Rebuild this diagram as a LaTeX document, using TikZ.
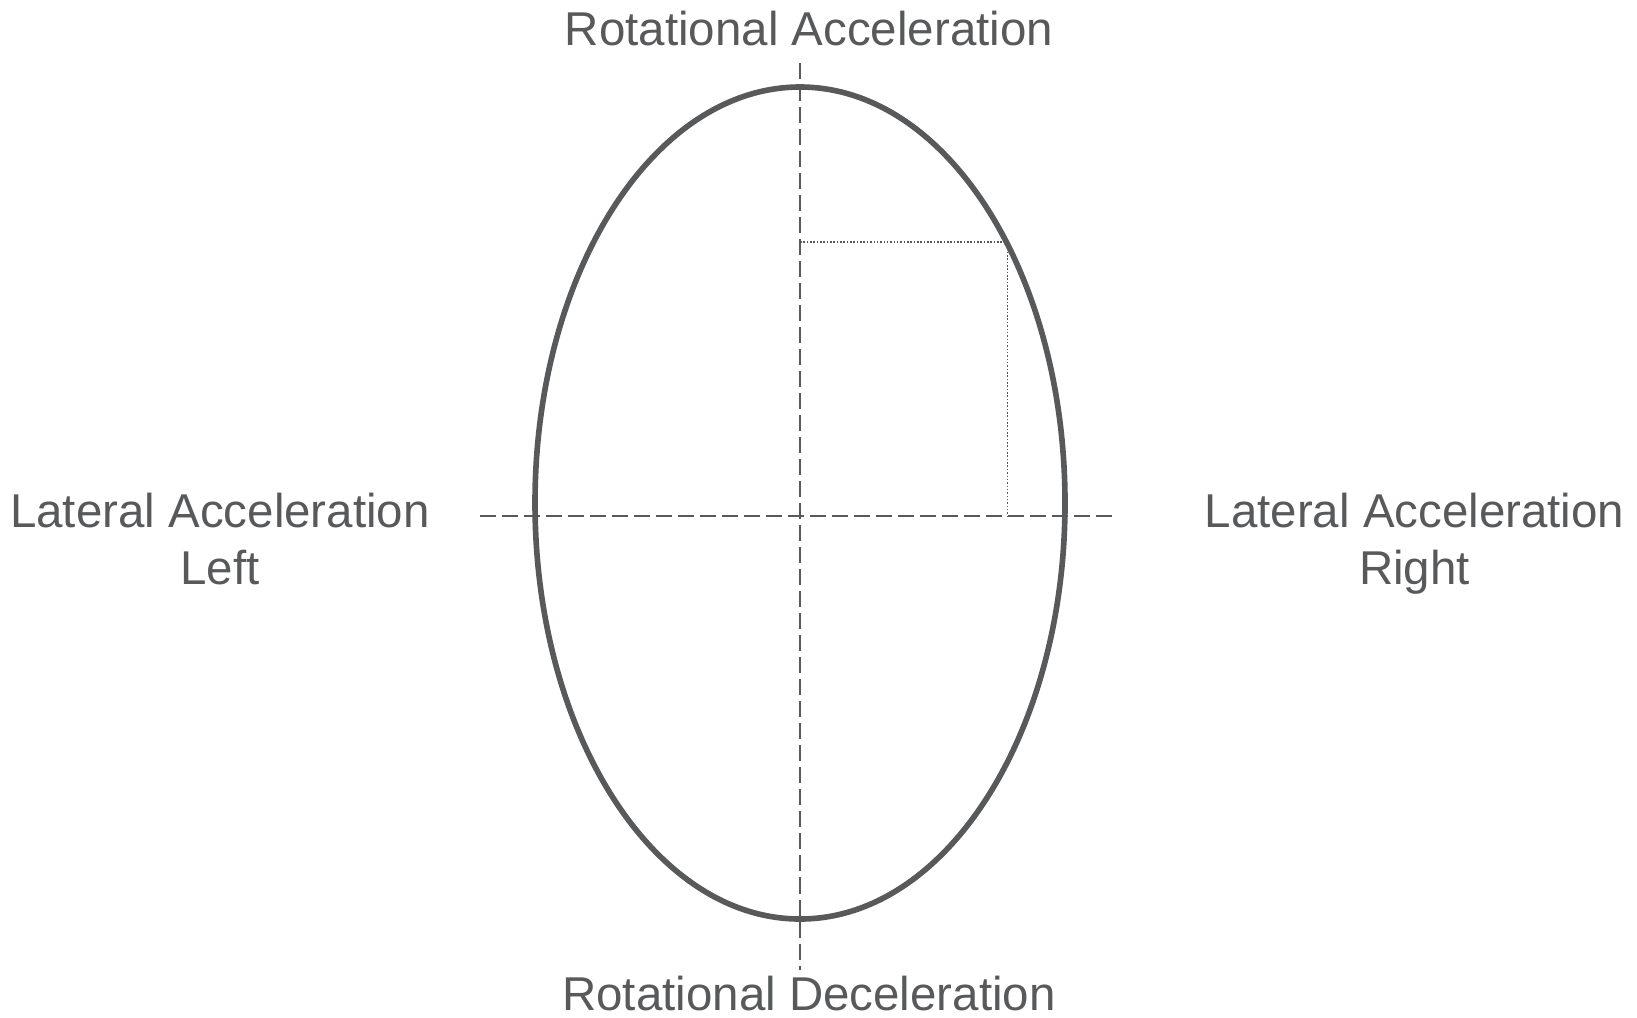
\documentclass[tikz,border=0pt]{standalone}
\usepackage{fontspec}
\setmainfont{Liberation Sans}
\usetikzlibrary{positioning,calc}
\definecolor{ink}{HTML}{58595B}

\begin{document}
\begin{tikzpicture}[
  x=0.01cm, y=-0.01cm,
  font=\fontsize{13.5pt}{16pt}\selectfont, text=ink,
  rim/.style={draw=ink, line width=1.6pt},
  axis/.style={draw=ink, line width=0.6pt, dash pattern=on 0.16cm off 0.06cm},
  guide/.style={draw=ink, line width=0.45pt, dash pattern=on 0.45pt off 0.5pt},
  label/.style={inner sep=0pt, anchor=base, align=center},
]
\useasboundingbox (0,0) rectangle (1637,1017);

% ---- the friction ellipse ----------------------------------------------------
\coordinate (o) at (800,503);
\draw[rim] (o) ellipse [x radius=265, y radius=416];

% ---- axes ---------------------------------------------------------------------
\coordinate (ytop) at (800,63);
\coordinate (ybot) at (800,970);
\coordinate (xleft) at (480,516);
\coordinate (xright) at (1112,516);
\draw[axis] (ytop) -- (ybot);
\draw[axis] (xleft) -- (xright);

% one point on the rim
\coordinate (pt) at (1007.5,242);
\draw[guide] (ytop |- pt) -- (pt) -- (pt |- xleft);

% ---- labels (base = last line) ------------------------------------------------
\node[label] (accel) at (809,45) {Rotational Acceleration};
\node[label] (decel) at (809,1010) {Rotational Deceleration};
\node[label] (latleft) at (220,584) {Lateral Acceleration\\Left};
\node[label] (latright) at (1414.5,584) {Lateral Acceleration\\Right};

\end{tikzpicture}
\end{document}
